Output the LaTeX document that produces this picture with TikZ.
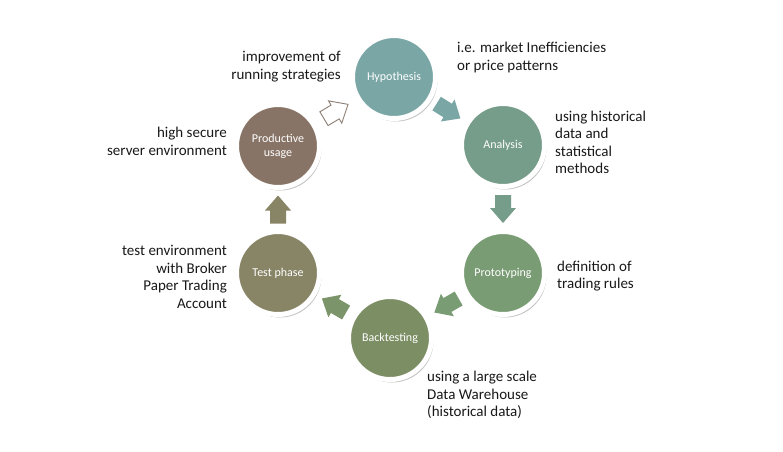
\documentclass[tikz,border=0pt]{standalone}
\usepackage{fontspec}
\setmainfont{Carlito}
\usetikzlibrary{calc,shadows}
\definecolor{chyp}{RGB}{122,166,166}
\definecolor{cana}{RGB}{118,156,138}
\definecolor{cpro}{RGB}{122,156,116}
\definecolor{cbak}{RGB}{124,142,100}
\definecolor{ctst}{RGB}{136,132,102}
\definecolor{cprd}{RGB}{136,116,102}
\definecolor{carrbak}{RGB}{124,148,106}
\definecolor{coutline}{RGB}{140,126,116}
\definecolor{ctext}{RGB}{25,25,25}
\tikzset{
  stage/.style={circle, draw=white, line width=5pt, minimum size=83pt, inner sep=0pt,
    text=white, font=\fontsize{12}{14}\selectfont, align=center,
    drop shadow={shadow xshift=2pt, shadow yshift=-3pt, opacity=0.33, fill=black!70}},
  lbl/.style={font=\fontsize{15}{17.5}\selectfont, text=ctext, inner sep=0pt},
  blockarrow/.pic={\path[pic actions] (-14,-8) -- (-1,-8) -- (-1,-13) -- (14,0) -- (-1,13) -- (-1,8) -- (-14,8) -- cycle;}
}
\newcommand{\stagearrow}[3]{%
  \path let \p1=($(#2)-(#1)$), \n1={atan2(\y1,\x1)} in
    pic[rotate=\n1, #3] at ($(#1)!0.5!(#2)$) {blockarrow};}
\begin{document}
\begin{tikzpicture}[x=1pt,y=-1pt]
\useasboundingbox[fill=white] (0,0) rectangle (783,451);
% stages
\node[stage, fill=chyp] (hyp) at (394,77) {Hypothesis};
\node[stage, fill=cana] (ana) at (503,145) {Analysis};
\node[stage, fill=cpro] (pro) at (503,273) {Prototyping};
\node[stage, fill=cbak] (bak) at (390,338) {Backtesting};
\node[stage, fill=ctst] (tst) at (278,273) {Test phase};
\node[stage, fill=cprd] (prd) at (278,146) {Productive\\usage};
% arrows
\stagearrow{hyp}{ana}{fill=chyp}
\stagearrow{ana}{pro}{fill=cana}
\stagearrow{pro}{bak}{fill=cpro}
\stagearrow{bak}{tst}{fill=carrbak}
\stagearrow{tst}{prd}{fill=ctst}
\stagearrow{prd}{hyp}{fill=white, draw=coutline, line width=0.9pt}
% labels
\node[lbl, anchor=east, align=right] (l1) at (341,66.5) {improvement of\\running strategies};
\node[lbl, anchor=west, align=left] (l2) at (457,57.5) {i.e. market Inefficiencies\\or price patterns};
\node[lbl, anchor=west, align=left] (l3) at (555,142.5) {using historical\\data and\\statistical\\methods};
\node[lbl, anchor=west, align=left] (l4) at (557,276) {definition of\\trading rules};
\node[lbl, anchor=west, align=left] (l5) at (427,395) {using a large scale\\Data Warehouse\\(historical data)};
\node[lbl, anchor=east, align=right] (l6) at (227,277) {test environment\\with Broker\\Paper Trading\\Account};
\node[lbl, anchor=east, align=right] (l7) at (227,141.5) {high secure\\server environment};
\end{tikzpicture}
\end{document}
